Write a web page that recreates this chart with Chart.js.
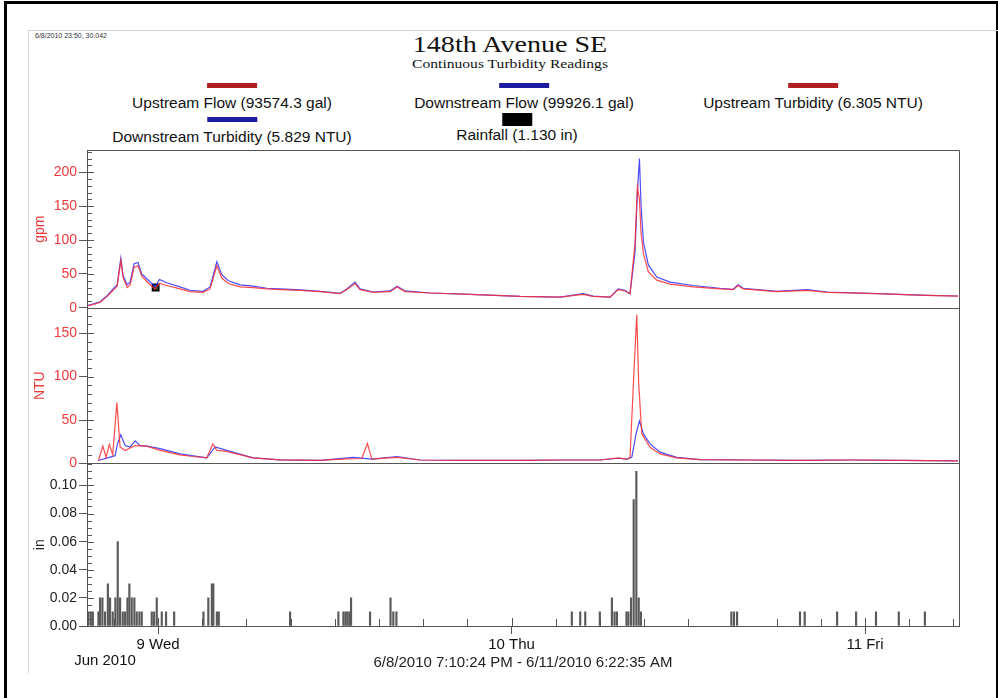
<!DOCTYPE html>
<html>
<head>
<meta charset="utf-8">
<script src="https://cdn.jsdelivr.net/npm/chart.js@4.4.0/dist/chart.umd.min.js"></script>
<style>
  body { margin: 0; background: #fff; width: 998px; height: 698px; position: relative; overflow: hidden;
         font-family: "Liberation Sans", Arial, sans-serif; color: #111; }
  .outer { position: absolute; left: 4px; top: 1px; width: 989px; height: 720px; border-left: 3px solid #000; border-top: 3px solid #000; border-right: 2px solid #000; }
  .inner { position: absolute; left: 28px; top: 30px; width: 980px; height: 642px; border-left: 1px solid #d4d4d4; border-top: 1px solid #d4d4d4; }
  #stamp { position: absolute; left: 35px; top: 32px; font-size: 7px; color: #333; }
  #title { position: absolute; left: 510px; top: 31px; transform: translateX(-50%) scaleX(1.17); white-space: nowrap;
           font: 24px "Liberation Serif", "Times New Roman", serif; }
  #subtitle { position: absolute; left: 510px; top: 56px; transform: translateX(-50%) scaleX(1.2); white-space: nowrap;
              font: 13px "Liberation Serif", "Times New Roman", serif; }
  .leg { position: absolute; transform: translateX(-50%); text-align: center; white-space: nowrap; font-size: 15.5px; }
  .leg .sw { margin: 0 auto; }
  #chart { position: absolute; left: 28px; top: 140px; }
  #month { position: absolute; left: 105px; top: 651px; transform: translateX(-50%); font-size: 15px; }
</style>
</head>
<body>
<div class="outer"></div>
<div class="inner"></div>
<div id="stamp">6/8/2010 23:50, 30.042</div>
<div id="title">148th Avenue SE</div>
<div id="subtitle">Continuous Turbidity Readings</div>
<div id="legend"></div>
<canvas id="chart" width="950" height="540"></canvas>
<div id="month">Jun 2010</div>
<script>
// Time is hours since 6/8/2010 00:00

const startHour = 19.173;   // 6/8 7:10:24 PM
const endHour = 78.376;     // 6/11 6:22:35 AM

const dayTicks = [24, 48, 72];
const dayLabels = ['9 Wed', '10 Thu', '11 Fri'];

// Flow (gpm)
const flowTimes = [19.25, 20.06, 20.54, 20.95, 21.22, 21.47, 21.62, 21.90, 22.10, 22.37, 22.64, 22.89, 23.23, 23.57, 23.80,
  24.09, 24.59, 25.49, 26.17, 27.05, 27.53, 27.99, 28.32, 28.77, 29.57, 30.45, 31.38, 32.28, 33.64, 35.00, 36.36, 36.81,
  37.37, 37.71, 38.60, 39.75, 40.23, 40.77, 42.47, 45.18, 48.58, 51.29, 52.85, 53.53, 54.69, 55.23, 55.70, 56.04, 56.38,
  56.54, 56.68, 56.79, 56.95, 57.29, 57.86, 58.76, 60.32, 62.15, 63.04, 63.38, 63.72, 66.02, 68.06, 69.42, 72.81, 76.21, 78.31];
const upstreamFlow = [3, 8, 17, 26, 32, 70, 45, 30, 34, 60, 62, 47, 39, 32, 28,
  36, 33, 28, 24, 23, 28, 62, 44, 36, 31, 30, 28, 27, 26, 24, 21, 27,
  36, 27, 23, 24, 31, 24, 22, 20, 17, 16, 20, 17, 16, 27, 25, 21, 95,
  178, 160, 110, 80, 53, 41, 35, 31, 28, 27, 33, 28, 24, 26, 23, 21, 18.5, 17.5];
const downstreamFlow = [4, 9, 18, 28, 34, 73, 48, 34, 38, 65, 67, 50, 43, 36, 31,
  42, 37, 31, 26, 24.5, 31, 68, 49, 40, 34, 32, 29, 28, 26.5, 24.5, 21.5, 28,
  38, 28, 23.5, 25, 32, 25, 22, 20, 17, 16, 21, 17.5, 16, 28, 26, 21, 82,
  170, 220, 151, 97, 63, 45.5, 38, 33, 29, 27.5, 34, 29, 24.5, 27, 23.5, 21, 18.6, 17.6];

// Turbidity (NTU)
const upTurbTimes = [19.95, 20.25, 20.47, 20.69, 20.92, 21.20, 21.42, 21.76, 22.44, 23.23, 24.14, 25.49, 26.38, 27.31, 27.71,
  27.99, 28.66, 29.34, 30.45, 32.28, 35.00, 36.81, 37.83, 38.21, 38.51, 40.23, 41.79, 45.18, 48.58, 51.29, 54.01, 55.23,
  55.84, 56.04, 56.32, 56.50, 56.63, 56.84, 57.40, 58.08, 59.21, 60.80, 64.19, 67.58, 70.98, 74.37, 78.31];
const upstreamTurbidity = [3.4, 20, 7, 22, 10, 70, 19, 15, 20.6, 20, 15, 10, 8, 6.5, 22.5,
  15, 14, 11, 6.5, 4.2, 3.5, 5.3, 5.7, 23, 5, 7, 4, 3.5, 3.5, 4, 4, 6.5,
  5, 7, 110, 171, 92, 34, 18.7, 11, 6.5, 4.5, 4, 3.5, 4, 3.5, 3];
const downTurbTimes = [19.95, 21.08, 21.24, 21.47, 21.76, 22.10, 22.44, 22.78, 23.23, 24.14, 25.49, 27.31, 27.87, 28.66,
  30.45, 32.28, 35.00, 37.24, 38.51, 40.23, 41.79, 45.18, 48.58, 51.29, 54.01, 55.23, 55.84, 56.16, 56.45, 56.68, 56.95,
  57.40, 58.08, 59.21, 60.80, 64.19, 67.58, 70.98, 74.37, 78.31];
const downstreamTurbidity = [3.4, 9, 22.5, 33, 20.6, 19, 26, 20.6, 20, 17, 11, 6.5, 19, 15,
  6.5, 4.2, 3.5, 7, 5, 8, 4, 3.5, 3.5, 4, 4, 6, 5, 7, 34, 49, 34,
  22.5, 13, 7, 4.5, 4, 3.5, 4, 3.5, 3];

// Rainfall (in)
const rainTimes = [19.27, 19.43, 19.57, 19.95, 20.06, 20.22, 20.40, 20.59, 20.74, 20.92, 21.10, 21.26, 21.42, 21.60, 21.76,
  21.92, 22.05, 22.21, 22.39, 22.55, 22.73, 22.89, 23.57, 23.73, 23.91, 24.25, 24.54, 25.09, 27.08, 27.41, 27.65, 27.75,
  27.99, 28.12, 32.96, 36.24, 36.58, 36.72, 36.85, 36.99, 37.10, 38.39, 39.78, 39.97, 40.18, 52.09, 52.66, 53.00, 53.99,
  54.81, 54.99, 55.15, 55.80, 55.93, 56.11, 56.29, 56.47, 56.63, 56.78, 62.92, 63.10, 63.31, 67.58, 67.90, 70.10, 71.39,
  72.74, 74.29, 76.06];
const rainfall = [0.01, 0.01, 0.01, 0.01, 0.02, 0.02, 0.01, 0.03, 0.02, 0.01, 0.02, 0.06, 0.02, 0.01, 0.01,
  0.02, 0.03, 0.02, 0.02, 0.01, 0.01, 0.01, 0.01, 0.01, 0.02, 0.01, 0.01, 0.01, 0.01, 0.02, 0.03, 0.03,
  0.01, 0.01, 0.01, 0.01, 0.01, 0.01, 0.01, 0.01, 0.02, 0.01, 0.02, 0.01, 0.01, 0.01, 0.01, 0.01, 0.01,
  0.02, 0.01, 0.01, 0.01, 0.01, 0.02, 0.09, 0.11, 0.02, 0.01, 0.01, 0.01, 0.01, 0.01, 0.01, 0.01, 0.01,
  0.01, 0.01, 0.01];

// cursor readout marker (6/8 23:50, 30.042)
const markerTime = [23.833];
const markerValue = [30.042];

const legendLabels = ['Upstream Flow (93574.3 gal)', 'Downstream Flow (99926.1 gal)', 'Upstream Turbidity (6.305 NTU)',
  'Downstream Turbidity (5.829 NTU)', 'Rainfall (1.130 in)'];
const legendColors = ['#b02020', '#1c1ca0', '#b02020', '#1c1ca0', '#000'];
const legendX = [232, 524, 813, 232, 517];
const legendY = [83, 83, 83, 117, 113];

const RED = 'rgba(255,45,45,0.85)';
const BLUE = 'rgba(45,45,255,0.85)';
const AXIS_RED = '#ee3a3a';

// legend
const legendBox = document.getElementById('legend');
legendLabels.forEach((text, i) => {
  const item = document.createElement('div');
  item.className = 'leg';
  item.style.left = legendX[i] + 'px';
  item.style.top = legendY[i] + 'px';
  const isRain = i === 4;
  item.innerHTML = '<div class="sw" style="width:' + (isRain ? 30 : 50) + 'px;height:' + (isRain ? 13 : 5) +
    'px;background:' + legendColors[i] + ';margin-bottom:' + (isRain ? 0 : 6) + 'px"></div><div>' + text + '</div>';
  legendBox.appendChild(item);
});

function points(times, values) {
  return times.map((t, i) => ({ x: t, y: values[i] }));
}

// tick marks inside the panels
const tickSpec = {
  yFlow: { major: 50, minor: 10 },
  yNtu: { major: 50, minor: 10 },
  yRain: { major: 0.02, minor: 0.005 }
};

const panelFrame = {
  id: 'panelFrame',
  afterDatasetsDraw(chart) {
    const { ctx, chartArea: a, scales } = chart;
    ctx.save();
    ctx.strokeStyle = '#555';
    ctx.lineWidth = 1;
    ctx.beginPath();
    ctx.rect(Math.round(a.left) + 0.5, Math.round(a.top) + 0.5, Math.round(a.width), Math.round(a.height));
    ['yNtu', 'yRain'].forEach(id => {
      const y = Math.round(scales[id].top) + 0.5;
      ctx.moveTo(a.left, y);
      ctx.lineTo(a.right, y);
    });
    Object.keys(tickSpec).forEach(id => {
      const s = scales[id];
      const spec = tickSpec[id];
      const n = Math.floor(s.max / spec.minor + 1e-6);
      for (let i = 0; i <= n; i++) {
        const v = i * spec.minor;
        const y = Math.round(s.getPixelForValue(v)) + 0.5;
        const isMajor = Math.abs(v / spec.major - Math.round(v / spec.major)) < 1e-6;
        ctx.moveTo(a.left, y);
        ctx.lineTo(a.left + (isMajor ? 7 : 5), y);
      }
    });
    const x = scales.x;
    for (let h = 21; h < endHour; h += 3) {
      const px = Math.round(x.getPixelForValue(h)) + 0.5;
      ctx.moveTo(px, a.bottom);
      ctx.lineTo(px, a.bottom - (h % 24 === 0 ? 8 : 7));
    }
    ctx.stroke();
    ctx.restore();
  }
};

function yAxis(title, color, max, step, weight, decimals) {
  return {
    type: 'linear',
    position: 'left',
    stack: 'panels',
    stackWeight: weight,
    min: 0,
    max: max,
    afterFit: s => { s.width = 59; },
    border: { color: '#555' },
    grid: { drawOnChartArea: false, tickLength: 8, color: '#555' },
    ticks: {
      stepSize: step,
      includeBounds: false,
      autoSkip: false,
      padding: 2,
      color: color,
      font: { family: 'Liberation Sans', size: 14 },
      callback: v => v.toFixed(decimals)
    },
    title: { display: true, text: title, color: color, padding: { top: 4, bottom: 0 },
      font: { family: 'Liberation Sans', size: 14 } }
  };
}

new Chart(document.getElementById('chart'), {
  type: 'line',
  data: {
    datasets: [
      { label: 'Rainfall', type: 'bar', yAxisID: 'yRain', data: points(rainTimes, rainfall),
        backgroundColor: '#5a5a5a', borderWidth: 0, barThickness: 1.5, grouped: false },
      { label: 'Upstream Turbidity', yAxisID: 'yNtu', data: points(upTurbTimes, upstreamTurbidity),
        borderColor: RED, borderWidth: 1.2, pointRadius: 0, tension: 0 },
      { label: 'Downstream Turbidity', yAxisID: 'yNtu', data: points(downTurbTimes, downstreamTurbidity),
        borderColor: BLUE, borderWidth: 1.2, pointRadius: 0, tension: 0 },
      { label: 'Upstream Flow', yAxisID: 'yFlow', data: points(flowTimes, upstreamFlow),
        borderColor: RED, borderWidth: 1.2, pointRadius: 0, tension: 0 },
      { label: 'Downstream Flow', yAxisID: 'yFlow', data: points(flowTimes, downstreamFlow),
        borderColor: BLUE, borderWidth: 1.2, pointRadius: 0, tension: 0 },
      { label: 'marker', yAxisID: 'yFlow', data: points(markerTime, markerValue), showLine: false,
        pointStyle: 'rect', pointRadius: 4.5, pointBackgroundColor: '#1f3f22', pointBorderColor: '#000', pointBorderWidth: 1.5 }
    ]
  },
  options: {
    responsive: false,
    animation: false,
    layout: { padding: { top: 9, right: 19, left: 0, bottom: 0 } },
    plugins: { legend: { display: false }, tooltip: { enabled: false } },
    scales: {
      x: {
        type: 'linear',
        min: startHour,
        max: endHour,
        offset: false,
        afterFit: s => { s.height = 54; },
        afterBuildTicks: s => { s.ticks = dayTicks.map(v => ({ value: v })); },
        border: { color: '#555' },
        grid: { drawOnChartArea: false, offset: false, tickLength: 8, color: '#555' },
        ticks: {
          maxRotation: 0,
          autoSkip: false,
          padding: 2,
          color: '#111',
          font: { family: 'Liberation Sans', size: 15 },
          callback: (v, i) => dayLabels[i]
        },
        title: { display: true, text: '6/8/2010 7:10:24 PM - 6/11/2010 6:22:35 AM', color: '#222',
          padding: { top: 0, bottom: 8 }, font: { family: 'Liberation Sans', size: 15 } }
      },
      yRain: yAxis('in', '#222', 0.1156, 0.02, 163, 2),
      yNtu: yAxis('NTU', AXIS_RED, 179, 50, 156, 0),
      yFlow: yAxis('gpm', AXIS_RED, 232, 50, 158, 0)
    }
  },
  plugins: [panelFrame]
});
</script>
</body>
</html>
